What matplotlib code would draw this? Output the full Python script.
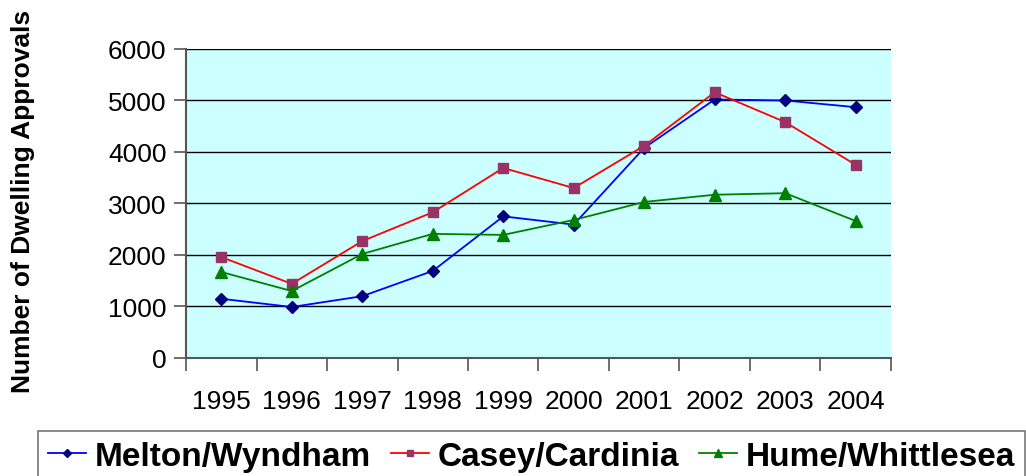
import matplotlib
matplotlib.use("Agg")
import matplotlib.pyplot as plt
from matplotlib.ticker import FixedLocator, NullFormatter

plt.rcParams["font.family"] = ["Liberation Sans", "DejaVu Sans"]

years = ["1995", "1996", "1997", "1998", "1999", "2000", "2001", "2002", "2003", "2004"]
melton = [1150, 990, 1200, 1690, 2750, 2590, 4080, 5020, 5000, 4870]
casey = [1960, 1440, 2270, 2830, 3690, 3300, 4120, 5160, 4580, 3750]
hume = [1670, 1300, 2020, 2410, 2390, 2680, 3030, 3170, 3200, 2660]

fig = plt.figure(figsize=(10.26, 4.77), dpi=100)
ax = fig.add_axes([0.1813, 0.2474, 0.6871, 0.6478])
ax.set_facecolor("#CCFFFF")

x = list(range(len(years)))
ax.plot(x, melton, color="#0000FF", lw=1.3, marker="D", ms=6,
        mfc="#000080", mec="#000080", label="Melton/Wyndham")
ax.plot(x, casey, color="#FF0000", lw=1.3, marker="s", ms=7,
        mfc="#993366", mec="#993366", label="Casey/Cardinia")
ax.plot(x, hume, color="#008000", lw=1.3, marker="^", ms=8,
        mfc="#008000", mec="#008000", label="Hume/Whittlesea")

ax.set_xlim(-0.5, len(years) - 0.5)
ax.set_ylim(0, 6000)
ax.set_yticks(range(0, 6001, 1000))
ax.yaxis.grid(True, color="black", lw=1)
ax.set_axisbelow(True)

# category axis: ticks between categories, labels centred
ax.xaxis.set_major_locator(FixedLocator([i - 0.5 for i in range(len(years) + 1)]))
ax.xaxis.set_major_formatter(NullFormatter())
ax.xaxis.set_minor_locator(FixedLocator(x))
ax.set_xticklabels(years, minor=True)
ax.tick_params(axis="x", which="minor", length=0, labelsize=19, pad=22)
ax.tick_params(axis="x", which="major", length=9, width=1.2, color="#555555")
ax.tick_params(axis="y", length=9, width=1.2, color="#555555", labelsize=19, pad=5)

for side in ("top", "right"):
    ax.spines[side].set_visible(False)
for side in ("left", "bottom"):
    ax.spines[side].set_color("#555555")
    ax.spines[side].set_linewidth(1.5)

fig.text(0.022, 0.577, "Number of Dwelling Approvals", rotation=90,
         fontsize=19, fontweight="bold", ha="center", va="center")

leg = fig.legend(loc="upper left", bbox_to_anchor=(0.037, 0.0943), borderaxespad=0,
                 ncol=3, prop={"size": 24, "weight": "bold"}, frameon=True,
                 fancybox=False, handlelength=1.15, handletextpad=0.25,
                 columnspacing=0.6, borderpad=0.3, markerscale=0.7)
leg.get_frame().set_edgecolor("#555555")
leg.get_frame().set_linewidth(1.2)

fig.savefig("out.png", dpi=100)
